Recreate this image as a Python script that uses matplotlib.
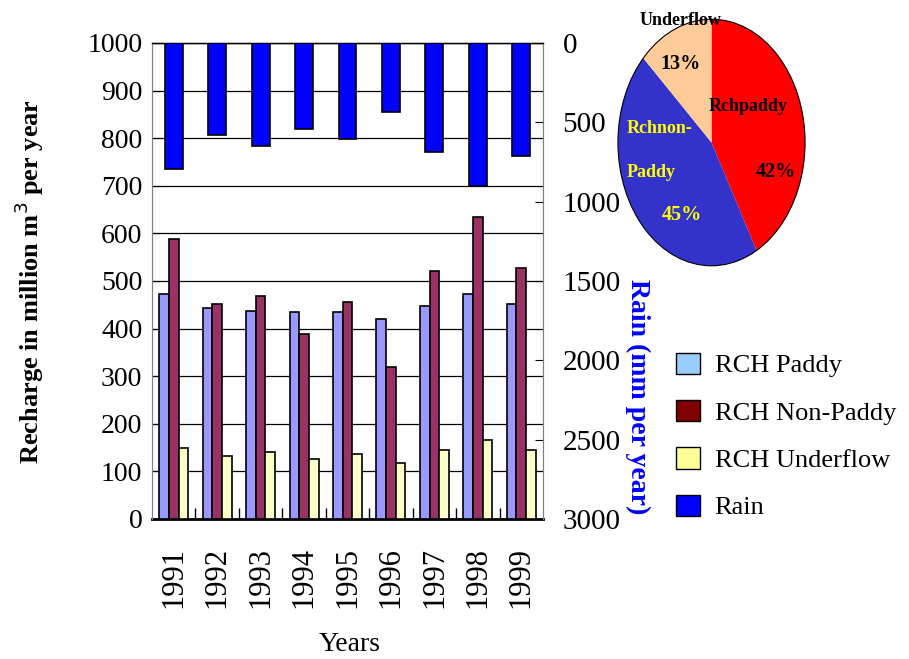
import matplotlib.pyplot as plt
import numpy as np
from matplotlib.patches import Patch, Circle

plt.rcParams['font.family'] = ['Liberation Serif', 'DejaVu Serif']

# annual recharge (million m3) and rainfall (mm)
years = ["1991", "1992", "1993", "1994", "1995", "1996", "1997", "1998", "1999"]
rch_paddy = [472, 443, 438, 434, 434, 420, 447, 472, 452]
rch_nonpaddy = [589, 452, 468, 389, 456, 319, 522, 634, 527]
rch_underflow = [149, 132, 141, 127, 136, 118, 146, 167, 146]
rain = [794, 582, 649, 540, 607, 435, 689, 900, 712]

# share of total recharge
pie_labels = ["Rchpaddy", "Rchnon-Paddy", "Underflow"]
pie_share = [42, 45, 13]

fig = plt.figure(figsize=(9.09, 6.59), dpi=100)
ax = fig.add_axes([152/909, 140/659, 391/909, 476/659])

x = np.arange(len(years))
w = 0.223
ax.bar(x - w, rch_paddy, w, color="#9999FF", edgecolor="black", linewidth=1.2, zorder=3)
ax.bar(x, rch_nonpaddy, w, color="#993366", edgecolor="black", linewidth=1.2, zorder=3)
ax.bar(x + w, rch_underflow, w, color="#FFFFCC", edgecolor="black", linewidth=1.2, zorder=3)

ax.set_xlim(-0.5, len(years) - 0.5)
ax.set_ylim(0, 1000)
ax.set_yticks(range(0, 1001, 100))
ax.tick_params(axis="y", direction="in", length=6, labelsize=20, pad=7)
ax.set_xticks(x)
ax.set_xticklabels(years, rotation=90, fontsize=22)
ax.tick_params(axis="x", length=0, pad=20)
ax.set_xticks(np.arange(0.5, len(years) - 1, 1), minor=True)
ax.tick_params(axis="x", which="minor", direction="in", length=8, width=1)
ax.grid(axis="y", color="black", linewidth=0.9, zorder=0)
for side in ["left", "right"]:
    ax.spines[side].set_color("#808080")
ax.spines["bottom"].set_linewidth(2)
ax.spines["top"].set_linewidth(1)
ax.set_ylabel("Recharge in million m$^3$ per year", fontsize=19, fontweight="bold")
ax.yaxis.set_label_coords(-0.272, 0.498)
ax.set_xlabel("Years", fontsize=20)
ax.xaxis.set_label_coords(0.506, -0.237)

# rainfall hangs from the top on an inverted right axis
ax2 = ax.twinx()
ax2.bar(x, rain, 0.41, color="#0000FF", edgecolor="black", linewidth=1.2, zorder=3)
ax2.set_ylim(3000, 0)
ax2.set_yticks(range(0, 3001, 500))
ax2.tick_params(axis="y", direction="in", length=6, labelsize=21, pad=14)
for side in ["left", "right"]:
    ax2.spines[side].set_color("#808080")
ax2.spines["bottom"].set_visible(False)
ax2.text(1.243, 0.258, "Rain (mm per year)", transform=ax2.transAxes, fontsize=20,
         fontweight="bold", color="#0000FF", rotation=-90, ha="center", va="center")

# legend
handles = [
    Patch(facecolor="#99CCFF", edgecolor="black", label="RCH Paddy"),
    Patch(facecolor="#800000", edgecolor="black", label="RCH Non-Paddy"),
    Patch(facecolor="#FFFF99", edgecolor="black", label="RCH Underflow"),
    Patch(facecolor="#0000FF", edgecolor="black", label="Rain"),
]
fig.legend(handles=handles, loc="upper left", bbox_to_anchor=(652/909, 1 - 329/659),
           frameon=False, fontsize=19, handlelength=0.9, handleheight=0.85,
           labelspacing=0.86, handletextpad=0.57)

# elliptical pie of recharge shares
axp = fig.add_axes([617/909, 1 - 267/659, 189/909, 249/659])
axp.pie(pie_share, colors=["#FF0000", "#3333CC", "#FFCC99"], startangle=90,
        counterclock=False, wedgeprops=dict(linewidth=0))
axp.add_patch(Circle((0, 0), 1, fill=False, edgecolor="black", linewidth=0.8))
axp.set_aspect("auto")
axp.set_xlim(-1.01, 1.01)
axp.set_ylim(-1.01, 1.01)
axp.axis("off")

pf = dict(fontweight="bold", transform=axp.transAxes)
axp.text(0.335, 0.99, pie_labels[2], fontsize=13, ha="center", va="center", color="black", **pf)
axp.text(0.335, 0.816, f"{pie_share[2]}%", fontsize=14.5, ha="center", va="center", color="black", **pf)
axp.text(0.695, 0.643, pie_labels[0], fontsize=13, ha="center", va="center", color="black", **pf)
axp.text(0.841, 0.382, f"{pie_share[0]}%", fontsize=14.5, ha="center", va="center", color="black", **pf)
axp.text(0.053, 0.558, "Rchnon-", fontsize=13, ha="left", va="center", color="yellow", **pf)
axp.text(0.053, 0.378, "Paddy", fontsize=13, ha="left", va="center", color="yellow", **pf)
axp.text(0.344, 0.208, f"{pie_share[1]}%", fontsize=14.5, ha="center", va="center", color="yellow", **pf)

fig.savefig("out.png", dpi=100)
